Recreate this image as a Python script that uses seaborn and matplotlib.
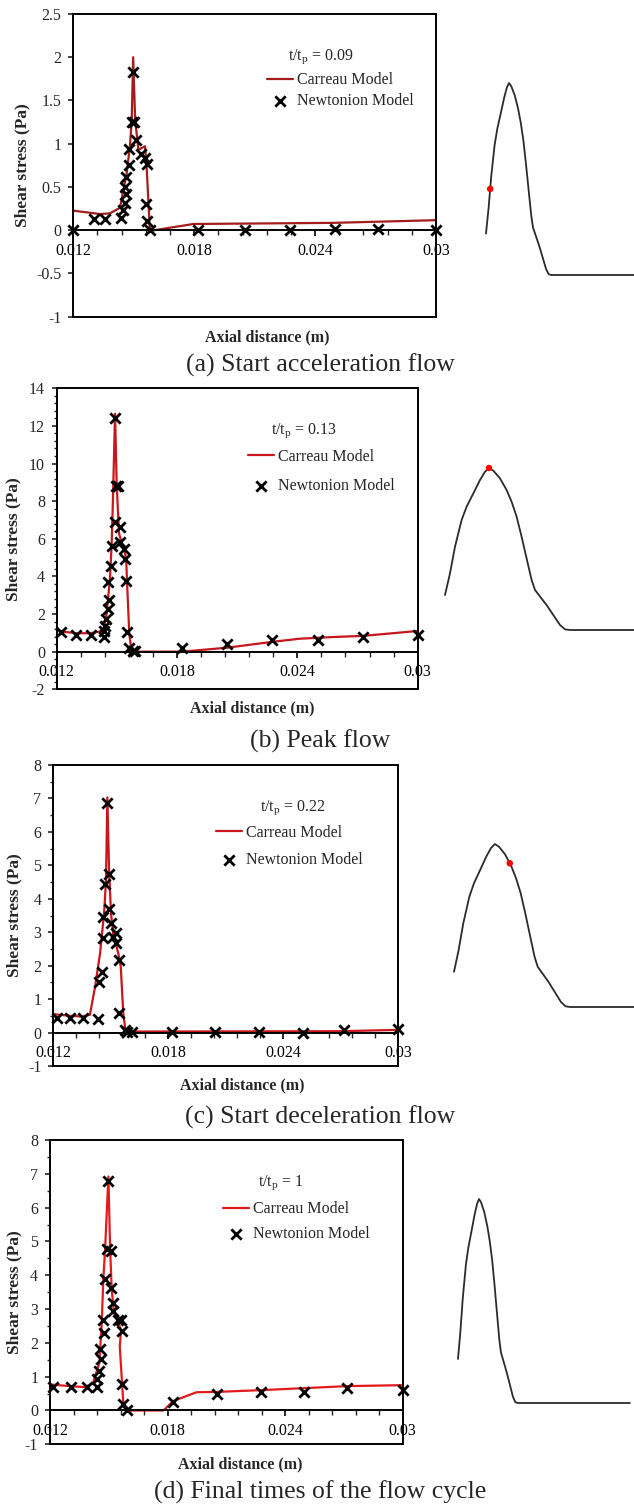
import matplotlib
matplotlib.use("Agg")
import matplotlib.pyplot as plt
import seaborn as sns
import numpy as np
from matplotlib.ticker import FixedLocator, MultipleLocator, FuncFormatter
from matplotlib.lines import Line2D

# ------------------------------------------------------------------ data
x_ticks = [0.012, 0.018, 0.024, 0.030]
x_tick_labels = ["0.012", "0.018", "0.024", "0.03"]

time_labels = ["0.09", "0.13", "0.22", "1"]
captions = ["(a) Start acceleration flow", "(b) Peak flow",
            "(c) Start deceleration flow", "(d) Final times of the flow cycle"]

a_yticks = [-1, -0.5, 0, 0.5, 1, 1.5, 2, 2.5]
b_yticks = [-2, 0, 2, 4, 6, 8, 10, 12, 14]
c_yticks = [-1, 0, 1, 2, 3, 4, 5, 6, 7, 8]
d_yticks = [-1, 0, 1, 2, 3, 4, 5, 6, 7, 8]

# (a) t/tp = 0.09
a_carreau_x = [0.012, 0.01333, 0.01382, 0.01432, 0.01465, 0.01481, 0.0149, 0.01497,
               0.01507, 0.01523, 0.01547, 0.01556, 0.01564, 0.0158, 0.01589, 0.01796,
               0.0249, 0.030]
a_carreau_y = [0.226, 0.187, 0.195, 0.26, 0.66, 0.97, 1.28, 2.0,
               1.28, 0.93, 0.96, 0.97, 0.73, 0.0, -0.005, 0.072,
               0.085, 0.116]
a_newt_x = [0.012, 0.01304, 0.01357, 0.01437, 0.01445, 0.01457, 0.0146, 0.01457, 0.01462,
            0.01474, 0.01478, 0.0149, 0.01503, 0.01498, 0.01512, 0.01534, 0.01556, 0.01564,
            0.01561, 0.01567, 0.0158, 0.0182, 0.02052, 0.02275, 0.0250, 0.02713, 0.030]
a_newt_y = [0.0, 0.126, 0.126, 0.145, 0.234, 0.318, 0.42, 0.50, 0.62,
            0.755, 0.94, 1.255, 1.255, 1.835, 1.045, 0.88, 0.83, 0.766,
            0.30, 0.11, 0.0, 0.0, 0.0, 0.0, 0.01, 0.01, 0.0]

# (b) t/tp = 0.13
b_carreau_x = [0.012, 0.013, 0.01366, 0.01432, 0.01449, 0.01466, 0.01474, 0.01479, 0.01491,
               0.01499, 0.01511, 0.01532, 0.01546, 0.01552, 0.01562, 0.01574, 0.01823,
               0.02048, 0.0228, 0.02413, 0.0258, 0.02729, 0.030]
b_carreau_y = [1.10, 0.98, 0.98, 1.10, 2.0, 3.95, 5.73, 7.5, 12.65,
               8.9, 6.26, 5.55, 5.0, 3.4, 0.93, 0.0, 0.0,
               0.21, 0.53, 0.69, 0.78, 0.84, 1.10]
b_newt_x = [0.0122, 0.01296, 0.01371, 0.01436, 0.01436, 0.01441, 0.01446, 0.01457, 0.01461,
            0.01457, 0.0147, 0.01474, 0.01491, 0.01491, 0.01496, 0.01504, 0.01516, 0.01516,
            0.01536, 0.01541, 0.01546, 0.01549, 0.01562, 0.01579, 0.0159, 0.01823, 0.02048,
            0.02272, 0.02505, 0.02726, 0.030]
b_newt_y = [1.07, 0.89, 0.89, 0.80, 1.10, 1.37, 1.73, 2.26, 2.74,
            3.68, 4.54, 5.6, 6.88, 12.43, 8.79, 8.79, 6.65, 5.82,
            5.46, 4.93, 3.77, 1.07, 0.18, 0.04, 0.04, 0.18, 0.39,
            0.64, 0.60, 0.78, 0.89]

# (c) t/tp = 0.22
c_carreau_x = [0.012, 0.01287, 0.01348, 0.01391, 0.01418, 0.01444, 0.01465, 0.01475, 0.01482,
               0.01491, 0.01501, 0.01513, 0.01539, 0.01552, 0.01565, 0.01578, 0.01617,
               0.0270, 0.030]
c_carreau_y = [0.55, 0.50, 0.48, 0.53, 1.37, 2.37, 3.57, 4.56, 7.03,
               4.86, 3.57, 2.92, 2.37, 1.97, 0.58, 0.0, 0.03,
               0.04, 0.08]
c_newt_x = [0.01218, 0.01287, 0.01357, 0.01432, 0.0144, 0.01453, 0.01461, 0.01458, 0.0147,
            0.01479, 0.01491, 0.01493, 0.015, 0.0151, 0.01527, 0.01527, 0.01545, 0.01545,
            0.01574, 0.01586, 0.01612, 0.01817, 0.02043, 0.02275, 0.02504, 0.02718, 0.030]
c_newt_y = [0.45, 0.45, 0.43, 0.40, 1.50, 1.80, 2.82, 3.47, 4.43,
            6.85, 4.74, 3.69, 3.27, 2.87, 2.99, 2.67, 2.17, 0.58,
            0.08, 0.03, 0.03, 0.03, 0.03, 0.03, -0.02, 0.08, 0.10]

# (d) t/tp = 1
d_carreau_x = [0.012, 0.01302, 0.01379, 0.0142, 0.01452, 0.01464, 0.01472, 0.01481, 0.01498,
               0.01507, 0.01515, 0.01527, 0.01549, 0.01563, 0.01556, 0.01574, 0.01591,
               0.01779, 0.01829, 0.01948, 0.0205, 0.02272, 0.02493, 0.02714, 0.030]
d_carreau_y = [0.77, 0.72, 0.69, 0.82, 1.41, 2.59, 3.87, 4.75, 6.92,
               4.75, 3.57, 2.88, 2.59, 2.38, 1.90, 0.23, 0.0,
               0.0, 0.28, 0.54, 0.55, 0.60, 0.66, 0.72, 0.75]
d_newt_x = [0.01217, 0.01306, 0.01387, 0.01442, 0.01438, 0.01452, 0.01459, 0.01455, 0.01476,
            0.0147, 0.01481, 0.0149, 0.0151, 0.01498, 0.0151, 0.0152, 0.01523, 0.01549,
            0.0156, 0.01566, 0.01566, 0.01574, 0.01591, 0.01826, 0.0205, 0.02275, 0.02498,
            0.02714, 0.030]
d_newt_y = [0.69, 0.69, 0.69, 0.69, 0.92, 1.16, 1.51, 1.83, 2.29,
            2.67, 3.89, 4.78, 4.73, 6.79, 3.62, 3.18, 2.93, 2.69,
            2.67, 2.34, 0.77, 0.18, 0.0, 0.25, 0.49, 0.55, 0.54,
            0.67, 0.62]

# inlet flow waveform (phase, normalised flow) and marked instants
wave_t = [0.0, 0.025, 0.05, 0.083, 0.108, 0.142, 0.175, 0.2, 0.22, 0.242, 0.275, 0.308,
          0.333, 0.358, 0.383, 0.408, 0.433, 0.45, 0.508, 0.575, 0.6, 0.625, 1.8]
wave_q = [0.216, 0.35, 0.514, 0.679, 0.761, 0.844, 0.926, 0.977, 1.0, 0.983, 0.936, 0.864,
          0.792, 0.70, 0.576, 0.442, 0.309, 0.247, 0.154, 0.031, 0.004, 0.0, 0.0]
dot_t = [0.04, 0.22, 0.30, None]

# ------------------------------------------------------------------ style
sns.set_style("white")
plt.rcParams["font.family"] = ["Liberation Serif", "DejaVu Serif"]
plt.rcParams["mathtext.fontset"] = "custom"
plt.rcParams["mathtext.rm"] = "Liberation Serif"
plt.rcParams["mathtext.it"] = "Liberation Serif:italic"
plt.rcParams["axes.unicode_minus"] = False

W, H = 634, 1509
FS = 11.5


def fig_rect(left, top, right, bottom):
    return [left / W, 1 - bottom / H, (right - left) / W, (bottom - top) / H]


panels = [
    dict(cx=a_carreau_x, cy=a_carreau_y, nx=a_newt_x, ny=a_newt_y, yticks=a_yticks,
         minor=None, box=(73.3, 14, 436, 316.7), color="#a51c1c",
         leg=(0.534, 0.747), ls=0.3, title=(0.683, 0.858), xl=(0.534, -0.067),
         ylx=-0.141, cap_y=365, ins=(486, 104.5, 275, 83)),
    dict(cx=b_carreau_x, cy=b_carreau_y, nx=b_newt_x, ny=b_newt_y, yticks=b_yticks,
         minor=0.4, box=(56.7, 388.3, 417.7, 689.3), color="#c8161d",
         leg=(0.530, 0.724), ls=0.8, title=(0.686, 0.858), xl=(0.541, -0.062),
         ylx=-0.120, cap_y=741, ins=(445, 200, 630, 468)),
    dict(cx=c_carreau_x, cy=c_carreau_y, nx=c_newt_x, ny=c_newt_y, yticks=c_yticks,
         minor=0.5, box=(53.3, 765, 398.3, 1066), color="#c8161d",
         leg=(0.472, 0.729), ls=0.7, title=(0.695, 0.857), xl=(0.547, -0.063),
         ylx=-0.114, cap_y=1117, ins=(454, 186, 1007, 844)),
    dict(cx=d_carreau_x, cy=d_carreau_y, nx=d_newt_x, ny=d_newt_y, yticks=d_yticks,
         minor=0.5, box=(50, 1140, 402.7, 1444.3), color="#e31a1c",
         leg=(0.490, 0.732), ls=0.55, title=(0.654, 0.859), xl=(0.539, -0.065),
         ylx=-0.102, cap_y=1492, ins=(458, 95.5, 1403, 1199)),
]

fig = plt.figure(figsize=(W / 100, H / 100), dpi=100)
fig.patch.set_facecolor("white")

for i, p in enumerate(panels):
    ax = fig.add_axes(fig_rect(*p["box"]))
    sns.lineplot(x=p["cx"], y=p["cy"], ax=ax, color=p["color"], lw=1.6, sort=False,
                 estimator=None, label="Carreau Model", zorder=2)
    sns.scatterplot(x=p["nx"], y=p["ny"], ax=ax, marker="x", color="black", s=55,
                    linewidth=2.0, label="Newtonion Model", zorder=3, clip_on=False)

    yt = p["yticks"]
    ax.set_xlim(0.012, 0.030)
    ax.set_ylim(yt[0], yt[-1])
    ax.xaxis.set_major_locator(FixedLocator(x_ticks))
    ax.set_xticklabels(x_tick_labels)
    ax.xaxis.set_minor_locator(MultipleLocator(0.0012))
    ax.yaxis.set_major_locator(FixedLocator(yt))
    ax.yaxis.set_major_formatter(FuncFormatter(lambda v, _: f"{v:g}"))
    if p["minor"]:
        ax.yaxis.set_minor_locator(MultipleLocator(p["minor"]))

    for s in ax.spines.values():
        s.set_linewidth(1.4)
        s.set_color("black")
        s.set_visible(True)
    ax.spines["bottom"].set_position(("data", 0))
    ax.add_artist(Line2D([0, 1], [0, 0], transform=ax.transAxes, color="black",
                         lw=1.4, clip_on=False))
    ax.tick_params(axis="x", which="major", direction="out", length=4, width=1.2,
                   pad=5, labelsize=FS, colors="black", bottom=True)
    ax.tick_params(axis="x", which="minor", direction="out", length=3.5, width=1.0,
                   bottom=True)
    ax.tick_params(axis="y", which="major", direction="out", length=3.5, width=1.2,
                   pad=5, labelsize=FS, left=True)
    ax.tick_params(axis="y", which="minor", direction="out", length=2.5, width=1.0,
                   left=True)

    ax.set_xlabel("Axial distance (m)", fontsize=FS, fontweight="bold")
    ax.xaxis.set_label_coords(*p["xl"])
    ax.xaxis.label.set_va("center")
    ax.set_ylabel("Shear stress (Pa)", fontsize=12.5, fontweight="bold")
    ax.yaxis.set_label_coords(p["ylx"], 0.5)
    ax.yaxis.label.set_va("center")

    h, l = ax.get_legend_handles_labels()
    ax.legend(h, l, loc="center left", bbox_to_anchor=p["leg"], frameon=False,
              handlelength=1.65, handletextpad=0.25, labelspacing=p["ls"], borderpad=0,
              borderaxespad=0, fontsize=FS, scatterpoints=1)
    ax.text(p["title"][0], p["title"][1], "t/t$_\\mathrm{p}$ = " + time_labels[i],
            transform=ax.transAxes, ha="center", va="center", fontsize=FS)

    fig.text(320 / W, 1 - p["cap_y"] / H, captions[i], ha="center", va="center",
             fontsize=18.5)

    # waveform inset
    x0, sx, y0, y1 = p["ins"]
    pad = 0.1
    hh = y0 - y1
    iax = fig.add_axes(fig_rect(x0, y1 - pad * hh, W, y0 + pad * hh))
    sns.lineplot(x=wave_t, y=wave_q, ax=iax, color="#2b2b2b", lw=1.3, sort=False,
                 estimator=None, clip_on=False)
    if dot_t[i] is not None:
        dq = float(np.interp(dot_t[i], wave_t, wave_q))
        sns.scatterplot(x=[dot_t[i]], y=[dq], ax=iax, color="red", s=22,
                        edgecolor="none", zorder=3, clip_on=False)
    iax.set_xlim(0, (W - x0) / sx)
    iax.set_ylim(-pad, 1 + pad)
    iax.axis("off")

fig.savefig("out.png", dpi=100, facecolor="white")
